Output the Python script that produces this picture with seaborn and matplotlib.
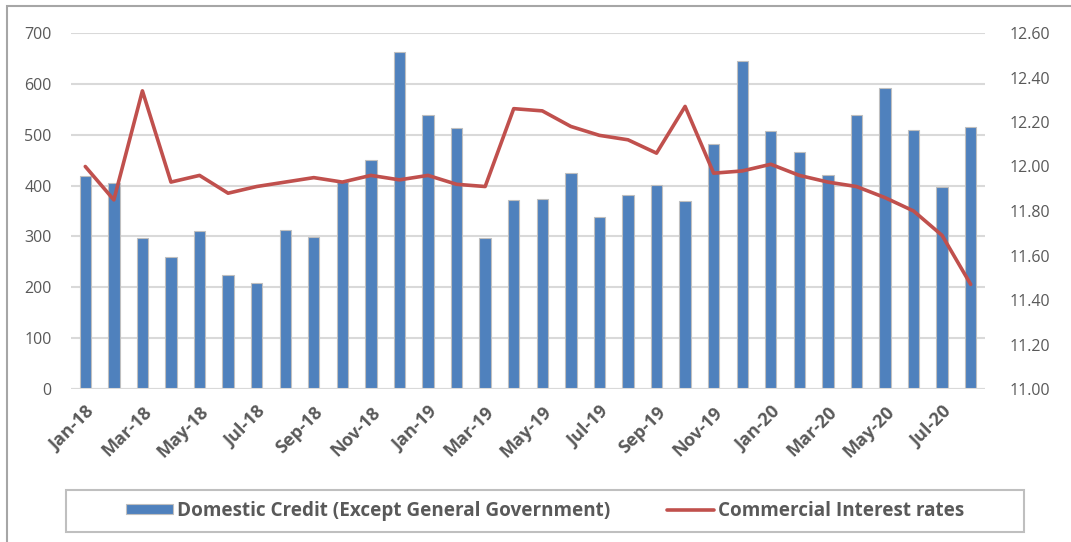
import numpy as np
import pandas as pd
import matplotlib
matplotlib.use("Agg")
import matplotlib.pyplot as plt
import seaborn as sns
from matplotlib.patches import Rectangle

# ---------- DATA ----------
months = ["Jan-18", "Feb-18", "Mar-18", "Apr-18", "May-18", "Jun-18", "Jul-18", "Aug-18",
          "Sep-18", "Oct-18", "Nov-18", "Dec-18", "Jan-19", "Feb-19", "Mar-19", "Apr-19",
          "May-19", "Jun-19", "Jul-19", "Aug-19", "Sep-19", "Oct-19", "Nov-19", "Dec-19",
          "Jan-20", "Feb-20", "Mar-20", "Apr-20", "May-20", "Jun-20", "Jul-20", "Aug-20"]

domestic_credit = [419, 406, 296, 259, 311, 225, 208, 313,
                   298, 408, 450, 663, 538, 513, 296, 372,
                   374, 425, 339, 381, 401, 370, 482, 645,
                   507, 466, 421, 538, 592, 509, 397, 516]

interest_rates = [12.00, 11.85, 12.34, 11.93, 11.96, 11.88, 11.91, 11.93,
                  11.95, 11.93, 11.96, 11.94, 11.96, 11.92, 11.91, 12.26,
                  12.25, 12.18, 12.14, 12.12, 12.06, 12.27, 11.97, 11.98,
                  12.01, 11.96, 11.93, 11.91, 11.86, 11.80, 11.69, 11.47]

left_ticks = [0, 100, 200, 300, 400, 500, 600, 700]
right_ticks = [11.0, 11.2, 11.4, 11.6, 11.8, 12.0, 12.2, 12.4, 12.6]

df = pd.DataFrame({"month": months, "credit": domestic_credit, "rate": interest_rates})
df["pos"] = np.arange(len(df))

# ---------- STYLE ----------
sns.set_style("white")
plt.rcParams["font.family"] = ["Open Sans", "DejaVu Sans"]

bar_color = "#4f81bd"
line_color = "#c0504d"
grid_color = "#d9d9d9"
text_color = "#595959"

fig = plt.figure(figsize=(10.71, 5.42), dpi=100)
W, H = 1071, 542
ax = fig.add_axes([71 / W, 1 - 389 / H, (985 - 71) / W, (389 - 33) / H])

# bars
sns.barplot(data=df, x="pos", y="credit", ax=ax, color=bar_color, width=0.4,
            edgecolor="#bfbfbf", linewidth=0.8, saturation=1, native_scale=True,
            label="Domestic Credit (Except General Government)", legend=False)
if ax.get_legend() is not None:
    ax.get_legend().remove()

ax.set_xlim(-0.5, len(df) - 0.5)
ax.set_ylim(0, 700)
ax.set_yticks(left_ticks)
ax.yaxis.grid(True, color=grid_color, linewidth=1.5)
ax.set_axisbelow(True)
ax.set_xticks(df["pos"][::2])
ax.set_xticklabels(df["month"][::2], rotation=45, ha="right", rotation_mode="anchor",
                   fontweight="bold", fontsize=13, color=text_color)
ax.tick_params(axis="y", labelsize=11.5, labelcolor=text_color, length=0, pad=14)
ax.tick_params(axis="x", length=0, pad=10)
ax.set_xlabel("")
ax.set_ylabel("")
for s in ax.spines.values():
    s.set_visible(False)
ax.axhline(0, color=grid_color, linewidth=1.5, zorder=1)

# line on right axis
ax2 = ax.twinx()
sns.lineplot(data=df, x="pos", y="rate", ax=ax2, color=line_color, linewidth=2.6,
             label="Commercial Interest rates", legend=False)
ax2.set_ylim(11.0, 12.6)
ax2.set_yticks(right_ticks)
ax2.set_yticklabels([f"{v:.2f}" for v in right_ticks])
ax2.tick_params(axis="y", labelsize=11.5, labelcolor=text_color, length=0, pad=18)
ax2.set_ylabel("")
for s in ax2.spines.values():
    s.set_visible(False)

# legend
h1, l1 = ax.get_legend_handles_labels()
h2, l2 = ax2.get_legend_handles_labels()
leg = fig.legend(h1 + h2, l1 + l2, loc="center", ncol=2,
                 bbox_to_anchor=(66 / W, 1 - 532 / H, (1024 - 66) / W, (532 - 490) / H),
                 frameon=False, handlelength=2.5, handleheight=0.42,
                 columnspacing=3.0, handletextpad=0.2,
                 prop={"weight": "bold", "size": 13.6})
for t in leg.get_texts():
    t.set_color(text_color)

# legend box stretched across
fig.patches.append(Rectangle((66 / W, 1 - 532 / H), (1024 - 66) / W, (532 - 490) / H,
                             transform=fig.transFigure, fill=False,
                             edgecolor="#bfbfbf", linewidth=1.5))

# outer chart border
fig.patches.append(Rectangle((7 / W, -0.05), 1.1, 1 - 6 / H + 0.05,
                             transform=fig.transFigure, fill=False,
                             edgecolor="#a6a6a6", linewidth=1.5))

fig.savefig("out.png", dpi=100)
